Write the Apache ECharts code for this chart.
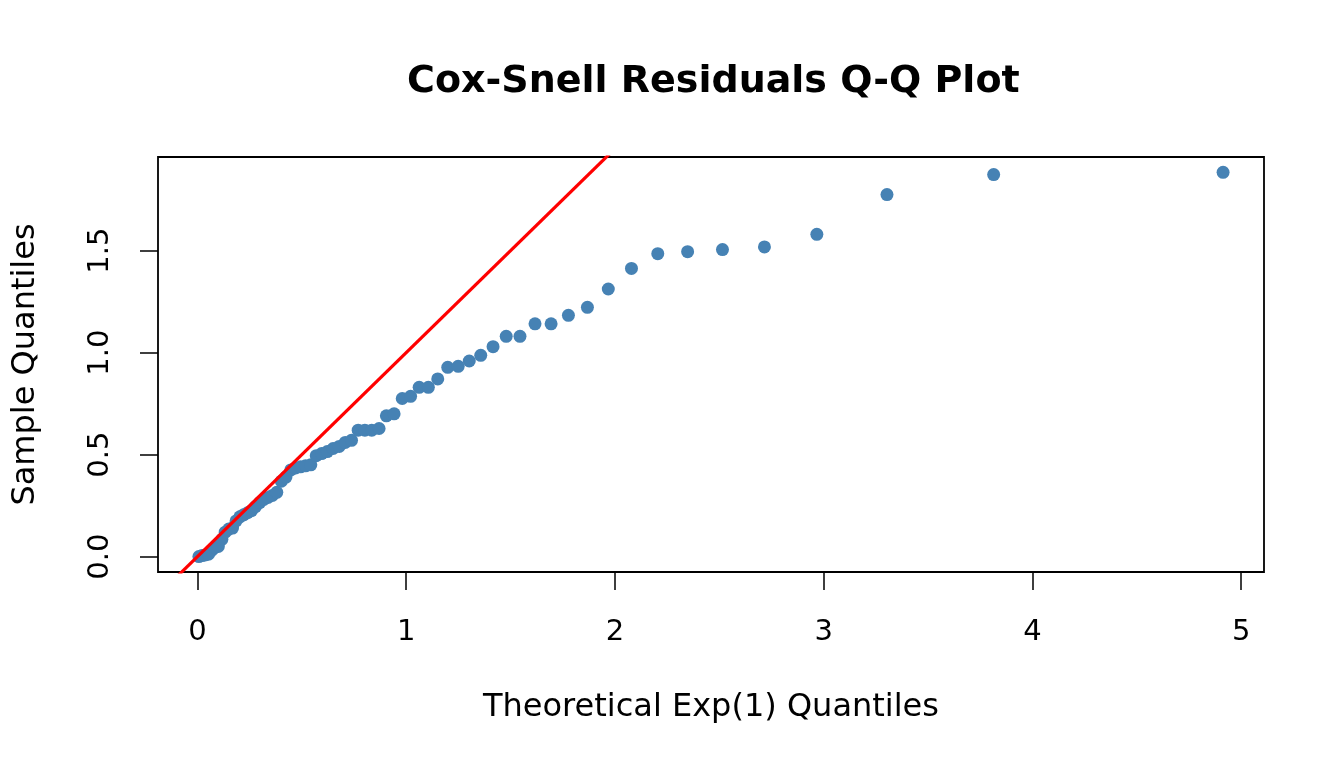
<!DOCTYPE html>
<html>
<head>
<meta charset="utf-8">
<script src="https://cdn.jsdelivr.net/npm/echarts@6/dist/echarts.min.js"></script>
<style>html,body{margin:0;padding:0;background:#fff;}#c{width:1344px;height:768px;}</style>
</head>
<body>
<div id="c"></div>
<script>
// Theoretical Exp(1) quantiles (x)
const theoretical = [0.007,0.022,0.037,0.053,0.068,0.084,0.100,0.117,0.133,0.150,
  0.168,0.185,0.203,0.221,0.240,0.259,0.278,0.298,0.318,0.338,
  0.359,0.380,0.402,0.424,0.447,0.470,0.494,0.518,0.543,0.569,
  0.595,0.622,0.650,0.679,0.708,0.738,0.770,0.802,0.835,0.870,
  0.905,0.942,0.981,1.021,1.062,1.106,1.151,1.199,1.249,1.302,
  1.357,1.416,1.479,1.545,1.617,1.694,1.777,1.868,1.968,2.079,
  2.205,2.348,2.515,2.716,2.967,3.303,3.814,4.913];
// Sample quantiles (sorted Cox-Snell residuals)
const sample = [0.000,0.005,0.008,0.012,0.030,0.045,0.050,0.085,0.120,0.135,
  0.140,0.175,0.195,0.205,0.215,0.225,0.245,0.265,0.280,0.290,
  0.300,0.315,0.370,0.390,0.425,0.435,0.440,0.445,0.450,0.495,
  0.505,0.515,0.530,0.540,0.560,0.570,0.620,0.620,0.620,0.628,
  0.690,0.700,0.775,0.786,0.830,0.830,0.871,0.928,0.933,0.959,
  0.987,1.029,1.080,1.080,1.141,1.141,1.183,1.222,1.312,1.413,
  1.485,1.495,1.505,1.518,1.580,1.775,1.873,1.884];
// Reference line y = x
const refLine = [[-1,-1],[3,3]];
const xTicks = [0,1,2,3,4,5];
const yTicks = [0.0,0.5,1.0,1.5];

const font = 'DejaVu Sans';
const points = theoretical.map((x,i)=>[x, sample[i]]);
const chart = echarts.init(document.getElementById('c'), null, {renderer:'canvas'});
chart.setOption({
  animation:false,
  backgroundColor:'#fff',
  title:{text:'Cox-Snell Residuals Q-Q Plot', left:402, top:58,
    textStyle:{fontFamily:font, fontWeight:'bold', fontSize:38, color:'#000'}},
  grid:{left:158, right:80, top:157, bottom:196, show:true, borderColor:'#000', borderWidth:1.8, backgroundColor:'transparent'},
  xAxis:{type:'value', min:-0.189, max:5.109,
    name:'Theoretical Exp(1) Quantiles', nameLocation:'middle', nameGap:120, nameMoveOverlap:false,
    nameTextStyle:{fontFamily:font, fontSize:32, color:'#000'},
    axisLine:{show:false, onZero:false}, splitLine:{show:false},
    axisTick:{show:true, inside:false, length:18, customValues:xTicks, lineStyle:{color:'#000', width:1.5}},
    axisLabel:{customValues:xTicks, margin:46, fontFamily:font, fontSize:29, color:'#000', formatter:v=>String(v)}},
  yAxis:{type:'value', min:-0.0754, max:1.959,
    name:'Sample Quantiles', nameLocation:'middle', nameGap:116, nameRotate:90, nameMoveOverlap:false,
    nameTextStyle:{fontFamily:font, fontSize:32, color:'#000'},
    axisLine:{show:false, onZero:false}, splitLine:{show:false},
    axisTick:{show:true, inside:false, length:18, customValues:yTicks, lineStyle:{color:'#000', width:1.5}},
    axisLabel:{customValues:yTicks, rotate:90, margin:43, fontFamily:font, fontSize:29, color:'#000', formatter:v=>v.toFixed(1)}},
  series:[
    {type:'scatter', data:points, symbol:'circle', symbolSize:13, itemStyle:{color:'#4682B4', opacity:1}, z:2},
    {type:'line', data:refLine, showSymbol:false, symbol:'none', clip:true, lineStyle:{color:'#FF0000', width:3.2}, z:3}
  ]
});
</script>
</body>
</html>
